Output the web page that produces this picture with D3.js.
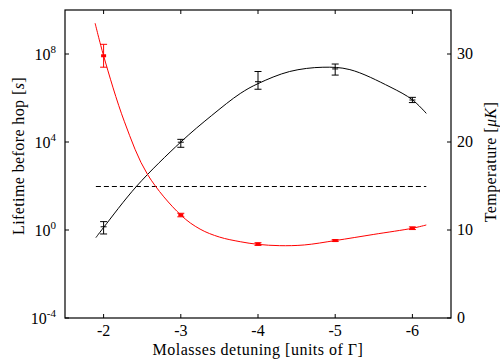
<!DOCTYPE html>
<html lang="en">
<head>
<meta charset="utf-8">
<title>Lifetime and temperature vs detuning</title>
<script src="https://d3js.org/d3.v7.min.js"></script>
<style>
  body { margin: 0; background: #fff; }
  text { font-family: "Liberation Serif", "DejaVu Serif", serif; fill: #000; }
</style>
</head>
<body>
<script>
// measured points
var detuning = [-2, -3, -4, -5, -6];
var lifetime = [1.4, 9800, 5.5e6, 2.1e7, 8.1e5];
var lifetimeLo = [0.66, 5750, 2.5e6, 1.1e7, 6.2e5];
var lifetimeHi = [2.4, 13200, 1.6e7, 3.5e7, 1.07e6];
var temperature = [29.8, 11.7, 8.4, 8.8, 10.2];
var temperatureErr = [1.3, 0.2, 0.15, 0.1, 0.15];

// fitted curves
var lifeFitX = [-1.9, -2.0, -2.43, -3.0, -3.4, -3.77, -4.0, -4.41, -4.84, -5.19, -5.71, -6.0, -6.18];
var lifeFitY = [0.45, 1.3, 100, 1.0e4, 1.6e5, 1.6e6, 4.5e6, 1.6e7, 2.5e7, 1.95e7, 3.2e6, 8.3e5, 2.0e5];
var tempFitX = [-1.89, -2.0, -2.27, -2.57, -3.0, -3.25, -3.5, -3.77, -4.0, -4.28, -4.6, -5.0, -5.5, -6.0, -6.18];
var tempFitY = [33.5, 29.8, 22.3, 16.3, 11.7, 10.1, 9.2, 8.67, 8.37, 8.22, 8.3, 8.8, 9.5, 10.2, 10.57];

// dashed reference level (s)
var thresholdX = [-1.9, -6.18];
var thresholdY = 100;

var xTicks = [-2, -3, -4, -5, -6];
var yTickExp = [-4, 0, 4, 8];
var y2Ticks = [0, 10, 20, 30];

var margin = {top: 10, right: 49, bottom: 46, left: 65},
    width = 500 - margin.left - margin.right,
    height = 364 - margin.top - margin.bottom;

var svg = d3.select("body").append("svg")
    .attr("width", 500)
    .attr("height", 364)
  .append("g")
    .attr("transform", "translate(" + margin.left + "," + margin.top + ")");

var x = d3.scaleLinear().domain([-1.5, -6.5]).range([0, width]);
var y = d3.scaleLog().domain([1e-4, 1e10]).range([height, 0]);
var y2 = d3.scaleLinear().domain([0, 35]).range([height, 0]);

var tick = 4;
var fs = "16px";

// frame
svg.append("rect")
    .attr("width", width).attr("height", height)
    .attr("fill", "none").attr("stroke", "#000").attr("stroke-width", 1.2);

// x ticks bottom & top, inward
xTicks.forEach(function(t) {
  svg.append("line").attr("x1", x(t)).attr("x2", x(t)).attr("y1", height).attr("y2", height - tick).attr("stroke", "#000");
  svg.append("line").attr("x1", x(t)).attr("x2", x(t)).attr("y1", 0).attr("y2", tick).attr("stroke", "#000");
  svg.append("text").attr("x", x(t)).attr("y", height + 18)
      .attr("text-anchor", "middle").style("font-size", fs).text(t);
});

// left log axis
yTickExp.forEach(function(e) {
  var yy = y(Math.pow(10, e));
  svg.append("line").attr("x1", 0).attr("x2", tick).attr("y1", yy).attr("y2", yy).attr("stroke", "#000");
  var t = svg.append("text").attr("x", -9).attr("y", yy + 6)
      .attr("text-anchor", "end").style("font-size", fs);
  t.append("tspan").text("10");
  t.append("tspan").attr("dy", -7).style("font-size", "11px").text(e);
});

// right linear axis
y2Ticks.forEach(function(v) {
  var yy = y2(v);
  svg.append("line").attr("x1", width).attr("x2", width - tick).attr("y1", yy).attr("y2", yy).attr("stroke", "#000");
  svg.append("text").attr("x", width + 6).attr("y", yy + 5)
      .style("font-size", fs).text(v);
});

// axis labels
svg.append("text")
    .attr("transform", "translate(" + (-41) + "," + (height / 2 - 8) + ") rotate(-90)")
    .attr("text-anchor", "middle").style("font-size", fs).style("letter-spacing", "0.4px")
    .html('Lifetime before hop [<tspan font-style="italic">s</tspan>]');
svg.append("text")
    .attr("transform", "translate(" + (width + 45) + "," + (height / 2 - 2) + ") rotate(-90)")
    .attr("text-anchor", "middle").style("font-size", fs).style("letter-spacing", "0.4px")
    .html('Temperature [<tspan font-style="italic">μK</tspan>]');
svg.append("text")
    .attr("x", width / 2).attr("y", height + 37)
    .attr("text-anchor", "middle").style("font-size", fs).style("letter-spacing", "0.5px")
    .text("Molasses detuning [units of Γ]");

// dashed level
svg.append("line")
    .attr("x1", x(thresholdX[0])).attr("x2", x(thresholdX[1]))
    .attr("y1", Math.round(y(thresholdY)) + 0.5).attr("y2", Math.round(y(thresholdY)) + 0.5)
    .attr("stroke", "#000").attr("stroke-dasharray", "5,3");

// fit curves
var lifeLine = d3.line().curve(d3.curveCatmullRom.alpha(0.5))
    .x(function(d) { return x(d[0]); })
    .y(function(d) { return y(d[1]); });
svg.append("path")
    .datum(d3.zip(lifeFitX, lifeFitY))
    .attr("d", lifeLine).attr("fill", "none").attr("stroke", "#000").attr("stroke-width", 1);

var tempLine = d3.line().curve(d3.curveCatmullRom.alpha(0.5))
    .x(function(d) { return x(d[0]); })
    .y(function(d) { return y2(d[1]); });
svg.append("path")
    .datum(d3.zip(tempFitX, tempFitY))
    .attr("d", tempLine).attr("fill", "none").attr("stroke", "#f00").attr("stroke-width", 1);

var cap = 3.5;

// lifetime error bars and + markers
detuning.forEach(function(d, i) {
  var cx = x(d), lo = y(lifetimeLo[i]), hi = y(lifetimeHi[i]), cy = y(lifetime[i]);
  var g = svg.append("g").attr("stroke", "#000").attr("stroke-width", 1);
  g.append("line").attr("x1", cx).attr("x2", cx).attr("y1", lo).attr("y2", hi);
  g.append("line").attr("x1", cx - cap).attr("x2", cx + cap).attr("y1", lo).attr("y2", lo);
  g.append("line").attr("x1", cx - cap).attr("x2", cx + cap).attr("y1", hi).attr("y2", hi);
  g.append("line").attr("x1", cx - 3).attr("x2", cx + 3).attr("y1", cy).attr("y2", cy);
});

// temperature error bars and square markers
detuning.forEach(function(d, i) {
  var cx = x(d), lo = y2(temperature[i] - temperatureErr[i]), hi = y2(temperature[i] + temperatureErr[i]), cy = y2(temperature[i]);
  var g = svg.append("g").attr("stroke", "#f00").attr("stroke-width", 1);
  g.append("line").attr("x1", cx).attr("x2", cx).attr("y1", lo).attr("y2", hi);
  g.append("line").attr("x1", cx - cap).attr("x2", cx + cap).attr("y1", lo).attr("y2", lo);
  g.append("line").attr("x1", cx - cap).attr("x2", cx + cap).attr("y1", hi).attr("y2", hi);
  svg.append("rect").attr("x", cx - 2.5).attr("y", cy - 1.5).attr("width", 5).attr("height", 3)
      .attr("fill", "#f00");
});
</script>
</body>
</html>
